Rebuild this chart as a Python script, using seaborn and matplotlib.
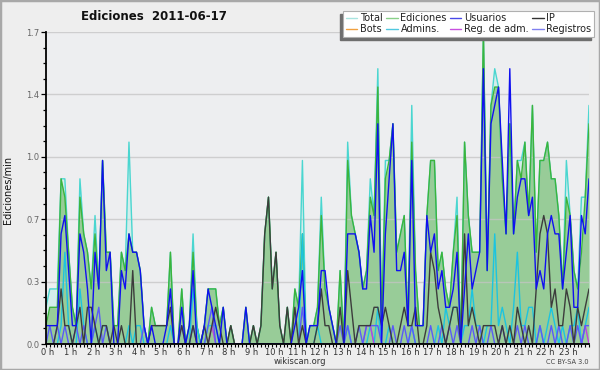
import numpy as np
import matplotlib
matplotlib.use('Agg')
import matplotlib.pyplot as plt
import seaborn as sns
from matplotlib.lines import Line2D
from matplotlib.patches import Rectangle
from matplotlib.transforms import IdentityTransform, ScaledTranslation

# Ediciones por minuto, un valor cada 10 minutos (0 h .. 24 h)
total = [
    0.2, 0.3, 0.3, 0.3, 0.9, 0.9, 0.5, 0.2, 0.1, 0.9, 0.6, 0.5,
    0.3, 0.7, 0.3, 1.0, 0.5, 0.5, 0.1, 0.1, 0.5, 0.4, 1.1, 0.5,
    0.5, 0.4, 0.1, 0.0, 0.2, 0.1, 0.1, 0.1, 0.1, 0.5, 0.0, 0.0,
    0.3, 0.0, 0.1, 0.6, 0.1, 0.0, 0.1, 0.3, 0.3, 0.3, 0.1, 0.2,
    0.0, 0.1, 0.0, 0.0, 0.0, 0.2, 0.0, 0.1, 0.0, 0.1, 0.6, 0.8,
    0.3, 0.5, 0.1, 0.0, 0.2, 0.0, 0.3, 0.2, 1.0, 0.0, 0.1, 0.1,
    0.2, 0.8, 0.3, 0.2, 0.1, 0.0, 0.4, 0.0, 1.1, 0.7, 0.6, 0.5,
    0.3, 0.4, 0.9, 0.7, 1.5, 0.1, 1.0, 1.0, 1.2, 0.5, 0.6, 0.7,
    0.1, 1.3, 0.4, 0.1, 0.1, 0.7, 1.0, 1.0, 0.4, 0.5, 0.3, 0.2,
    0.5, 0.8, 0.0, 1.1, 0.7, 0.5, 0.5, 0.5, 1.7, 0.4, 1.3, 1.5,
    1.4, 0.9, 0.6, 1.2, 0.6, 1.0, 1.0, 1.1, 0.7, 1.3, 0.5, 1.0,
    1.0, 1.1, 0.9, 0.9, 0.7, 0.3, 1.0, 0.7, 0.4, 0.3, 0.8, 0.8,
    1.3,
]
ediciones = [
    0.1, 0.2, 0.2, 0.2, 0.9, 0.8, 0.5, 0.2, 0.1, 0.8, 0.6, 0.5,
    0.3, 0.6, 0.3, 1.0, 0.5, 0.5, 0.1, 0.1, 0.5, 0.4, 0.6, 0.5,
    0.5, 0.4, 0.1, 0.0, 0.2, 0.1, 0.1, 0.1, 0.1, 0.5, 0.0, 0.0,
    0.3, 0.0, 0.1, 0.5, 0.1, 0.0, 0.1, 0.3, 0.3, 0.3, 0.1, 0.2,
    0.0, 0.1, 0.0, 0.0, 0.0, 0.2, 0.0, 0.1, 0.0, 0.1, 0.6, 0.8,
    0.3, 0.5, 0.1, 0.0, 0.2, 0.0, 0.3, 0.2, 0.6, 0.0, 0.1, 0.1,
    0.2, 0.7, 0.3, 0.2, 0.1, 0.0, 0.4, 0.0, 1.0, 0.7, 0.6, 0.5,
    0.3, 0.4, 0.8, 0.7, 1.4, 0.1, 0.9, 1.0, 1.2, 0.5, 0.6, 0.7,
    0.1, 1.1, 0.4, 0.1, 0.1, 0.7, 1.0, 1.0, 0.4, 0.5, 0.3, 0.2,
    0.5, 0.7, 0.0, 1.1, 0.7, 0.5, 0.5, 0.5, 1.7, 0.4, 1.3, 1.4,
    1.4, 0.9, 0.6, 1.2, 0.6, 1.0, 0.9, 1.1, 0.7, 1.3, 0.5, 1.0,
    1.0, 1.1, 0.9, 0.9, 0.7, 0.3, 0.8, 0.7, 0.4, 0.3, 0.5, 0.8,
    1.2,
]
usuarios = [
    0.1, 0.1, 0.1, 0.1, 0.6, 0.7, 0.4, 0.1, 0.1, 0.6, 0.5, 0.3,
    0.0, 0.5, 0.3, 1.0, 0.4, 0.5, 0.0, 0.0, 0.4, 0.3, 0.6, 0.5,
    0.5, 0.4, 0.1, 0.0, 0.1, 0.0, 0.0, 0.0, 0.1, 0.3, 0.0, 0.0,
    0.2, 0.0, 0.1, 0.4, 0.0, 0.0, 0.1, 0.3, 0.2, 0.1, 0.0, 0.2,
    0.0, 0.0, 0.0, 0.0, 0.0, 0.2, 0.0, 0.0, 0.0, 0.0, 0.0, 0.0,
    0.0, 0.0, 0.0, 0.0, 0.0, 0.0, 0.1, 0.2, 0.4, 0.0, 0.1, 0.1,
    0.1, 0.4, 0.4, 0.2, 0.1, 0.0, 0.0, 0.0, 0.6, 0.6, 0.6, 0.5,
    0.3, 0.3, 0.7, 0.5, 1.2, 0.0, 0.6, 0.9, 1.2, 0.4, 0.4, 0.5,
    0.1, 1.0, 0.1, 0.1, 0.1, 0.7, 0.5, 0.6, 0.3, 0.4, 0.2, 0.2,
    0.3, 0.5, 0.0, 0.3, 0.6, 0.3, 0.4, 0.5, 1.5, 0.4, 1.2, 1.3,
    1.4, 1.0, 0.6, 1.5, 0.6, 0.8, 0.9, 0.9, 0.7, 0.8, 0.3, 0.4,
    0.3, 0.6, 0.7, 0.6, 0.6, 0.3, 0.5, 0.7, 0.2, 0.2, 0.7, 0.6,
    0.9,
]
ip = [
    0.0, 0.0, 0.0, 0.1, 0.3, 0.1, 0.1, 0.0, 0.1, 0.2, 0.0, 0.2,
    0.2, 0.1, 0.0, 0.1, 0.1, 0.0, 0.1, 0.0, 0.1, 0.0, 0.0, 0.4,
    0.0, 0.0, 0.0, 0.0, 0.1, 0.1, 0.1, 0.1, 0.1, 0.2, 0.0, 0.0,
    0.1, 0.0, 0.0, 0.1, 0.0, 0.0, 0.1, 0.0, 0.1, 0.2, 0.1, 0.0,
    0.0, 0.1, 0.0, 0.0, 0.0, 0.0, 0.0, 0.1, 0.0, 0.1, 0.6, 0.8,
    0.3, 0.5, 0.1, 0.0, 0.2, 0.0, 0.2, 0.0, 0.1, 0.0, 0.0, 0.0,
    0.1, 0.3, 0.1, 0.1, 0.0, 0.0, 0.2, 0.0, 0.4, 0.2, 0.0, 0.1,
    0.1, 0.1, 0.1, 0.2, 0.2, 0.1, 0.2, 0.1, 0.0, 0.0, 0.1, 0.2,
    0.1, 0.1, 0.2, 0.0, 0.0, 0.1, 0.5, 0.4, 0.2, 0.1, 0.0, 0.1,
    0.2, 0.2, 0.0, 0.6, 0.1, 0.2, 0.1, 0.0, 0.1, 0.1, 0.1, 0.1,
    0.0, 0.1, 0.0, 0.1, 0.0, 0.2, 0.1, 0.0, 0.1, 0.0, 0.3, 0.6,
    0.7, 0.6, 0.2, 0.3, 0.1, 0.1, 0.3, 0.2, 0.0, 0.2, 0.1, 0.2,
    0.3,
]
bots = [
    0.0, 0.0, 0.0, 0.0, 0.0, 0.0, 0.0, 0.0, 0.0, 0.0, 0.0, 0.0,
    0.0, 0.0, 0.0, 0.0, 0.0, 0.0, 0.0, 0.0, 0.0, 0.0, 0.0, 0.0,
    0.0, 0.0, 0.0, 0.0, 0.0, 0.0, 0.0, 0.0, 0.0, 0.0, 0.0, 0.0,
    0.0, 0.0, 0.0, 0.0, 0.0, 0.0, 0.0, 0.0, 0.0, 0.0, 0.0, 0.0,
    0.0, 0.0, 0.0, 0.0, 0.0, 0.0, 0.0, 0.0, 0.0, 0.0, 0.0, 0.0,
    0.0, 0.0, 0.0, 0.0, 0.0, 0.0, 0.0, 0.0, 0.0, 0.0, 0.0, 0.0,
    0.0, 0.0, 0.0, 0.0, 0.0, 0.0, 0.0, 0.0, 0.0, 0.0, 0.0, 0.0,
    0.0, 0.0, 0.0, 0.0, 0.0, 0.0, 0.0, 0.0, 0.0, 0.0, 0.0, 0.0,
    0.0, 0.0, 0.0, 0.0, 0.0, 0.0, 0.0, 0.0, 0.0, 0.0, 0.0, 0.0,
    0.0, 0.0, 0.0, 0.0, 0.0, 0.0, 0.0, 0.0, 0.0, 0.0, 0.0, 0.0,
    0.0, 0.0, 0.0, 0.0, 0.0, 0.0, 0.0, 0.0, 0.0, 0.0, 0.0, 0.0,
    0.0, 0.0, 0.0, 0.0, 0.0, 0.0, 0.0, 0.0, 0.0, 0.0, 0.0, 0.0,
    0.0,
]
admins = [
    0.0, 0.0, 0.0, 0.0, 0.1, 0.5, 0.1, 0.0, 0.0, 0.3, 0.1, 0.0,
    0.0, 0.1, 0.0, 0.1, 0.1, 0.0, 0.0, 0.0, 0.0, 0.0, 0.1, 0.0,
    0.1, 0.1, 0.0, 0.0, 0.0, 0.0, 0.0, 0.0, 0.0, 0.1, 0.0, 0.0,
    0.0, 0.0, 0.0, 0.3, 0.1, 0.0, 0.0, 0.1, 0.1, 0.1, 0.0, 0.0,
    0.0, 0.0, 0.0, 0.0, 0.0, 0.0, 0.0, 0.0, 0.0, 0.0, 0.0, 0.0,
    0.0, 0.0, 0.0, 0.0, 0.0, 0.0, 0.0, 0.0, 0.6, 0.0, 0.0, 0.0,
    0.1, 0.0, 0.0, 0.0, 0.0, 0.0, 0.0, 0.0, 0.1, 0.0, 0.0, 0.0,
    0.0, 0.0, 0.1, 0.0, 0.2, 0.0, 0.0, 0.1, 0.0, 0.0, 0.0, 0.0,
    0.0, 0.1, 0.0, 0.0, 0.0, 0.0, 0.0, 0.0, 0.1, 0.0, 0.2, 0.1,
    0.2, 0.2, 0.0, 0.1, 0.1, 0.3, 0.1, 0.1, 0.0, 0.1, 0.1, 0.6,
    0.1, 0.2, 0.1, 0.0, 0.2, 0.5, 0.1, 0.1, 0.2, 0.2, 0.0, 0.1,
    0.0, 0.1, 0.2, 0.1, 0.0, 0.1, 0.0, 0.1, 0.1, 0.2, 0.0, 0.1,
    0.2,
]
reg_adm = [
    0.0, 0.0, 0.0, 0.0, 0.0, 0.0, 0.0, 0.0, 0.0, 0.0, 0.0, 0.0,
    0.0, 0.0, 0.0, 0.0, 0.0, 0.0, 0.0, 0.0, 0.0, 0.0, 0.0, 0.0,
    0.0, 0.0, 0.0, 0.0, 0.0, 0.0, 0.0, 0.0, 0.0, 0.0, 0.0, 0.0,
    0.0, 0.0, 0.0, 0.0, 0.0, 0.0, 0.0, 0.0, 0.1, 0.0, 0.0, 0.0,
    0.0, 0.0, 0.0, 0.0, 0.0, 0.0, 0.0, 0.0, 0.0, 0.0, 0.0, 0.0,
    0.0, 0.0, 0.0, 0.0, 0.0, 0.0, 0.0, 0.0, 0.0, 0.0, 0.0, 0.0,
    0.0, 0.0, 0.0, 0.0, 0.0, 0.0, 0.0, 0.0, 0.0, 0.0, 0.0, 0.0,
    0.0, 0.1, 0.1, 0.0, 0.0, 0.0, 0.0, 0.0, 0.0, 0.0, 0.0, 0.0,
    0.0, 0.0, 0.0, 0.0, 0.0, 0.0, 0.0, 0.0, 0.0, 0.0, 0.0, 0.0,
    0.0, 0.0, 0.0, 0.0, 0.0, 0.0, 0.0, 0.0, 0.0, 0.0, 0.0, 0.0,
    0.0, 0.0, 0.0, 0.0, 0.0, 0.0, 0.0, 0.0, 0.0, 0.0, 0.0, 0.0,
    0.0, 0.0, 0.0, 0.0, 0.0, 0.0, 0.0, 0.0, 0.0, 0.0, 0.0, 0.1,
    0.0,
]
registros = [
    0.0, 0.1, 0.0, 0.1, 0.0, 0.1, 0.0, 0.0, 0.1, 0.0, 0.1, 0.0,
    0.0, 0.1, 0.2, 0.0, 0.1, 0.0, 0.0, 0.0, 0.0, 0.0, 0.0, 0.0,
    0.0, 0.0, 0.1, 0.0, 0.0, 0.0, 0.0, 0.0, 0.0, 0.0, 0.0, 0.0,
    0.1, 0.0, 0.0, 0.1, 0.0, 0.0, 0.0, 0.1, 0.2, 0.0, 0.0, 0.0,
    0.0, 0.0, 0.0, 0.0, 0.0, 0.0, 0.0, 0.0, 0.0, 0.0, 0.0, 0.0,
    0.0, 0.0, 0.0, 0.0, 0.0, 0.0, 0.0, 0.0, 0.2, 0.0, 0.0, 0.0,
    0.0, 0.0, 0.0, 0.0, 0.0, 0.0, 0.1, 0.0, 0.1, 0.0, 0.0, 0.1,
    0.0, 0.1, 0.1, 0.1, 0.1, 0.0, 0.0, 0.0, 0.1, 0.0, 0.0, 0.1,
    0.0, 0.1, 0.0, 0.0, 0.0, 0.0, 0.1, 0.0, 0.0, 0.1, 0.0, 0.1,
    0.0, 0.1, 0.0, 0.0, 0.0, 0.1, 0.0, 0.1, 0.0, 0.0, 0.1, 0.0,
    0.0, 0.1, 0.0, 0.0, 0.0, 0.1, 0.0, 0.1, 0.0, 0.0, 0.0, 0.1,
    0.0, 0.0, 0.1, 0.0, 0.1, 0.0, 0.0, 0.1, 0.0, 0.1, 0.0, 0.1,
    0.1,
]

hour_labels = [f'{h} h' for h in range(24)]
ytick_vals = [0.0, 0.34, 0.68, 1.02, 1.36, 1.7]
ytick_labels = ['0.0', '0.3', '0.7', '1.0', '1.4', '1.7']

hours = np.arange(len(ediciones)) / 6

sns.set_theme(style='white')
plt.rcParams['font.family'] = ['DejaVu Sans']

fig = plt.figure(figsize=(6, 3.7), dpi=100, facecolor='#eeeeee')
ax = fig.add_axes([46 / 600, 26 / 370, 543 / 600, 312 / 370], facecolor='#edeef0')

# areas
ax.fill_between(hours, total, color='#d4edeb', lw=0, zorder=1)
ax.fill_between(hours, ediciones, color='#98cc98', lw=0, zorder=1.1)

# lineas
series = [
    (total, '#4ad6d0'),
    (ediciones, '#3cb43c'),
    (bots, '#f0a030'),
    (admins, '#1cc4e0'),
    (reg_adm, '#c040e0'),
    (registros, '#5a5af8'),
    (ip, '#3c3c3c'),
    (usuarios, '#1010f0'),
]
for vals, col in series:
    sns.lineplot(x=hours, y=vals, color=col, lw=1.0, ax=ax, legend=False)

ax.set_xlim(0, 24)
ax.set_ylim(0, 1.7)
ax.set_xticks(range(24))
ax.set_xticklabels(hour_labels)
ax.set_xticks(np.arange(0, 24.01, 1 / 6), minor=True)
ax.set_yticks(ytick_vals)
ax.set_yticklabels(ytick_labels)
ax.set_yticks(np.arange(0, 1.71, 0.085), minor=True)
ax.tick_params(axis='x', which='both', bottom=True, direction='out', length=2.2,
               width=0.8, color='black', labelsize=6, pad=1, labelcolor='#333333')
ax.tick_params(axis='y', which='major', left=True, direction='out', length=3.8,
               width=0.9, color='black', labelsize=6, pad=1, labelcolor='#666666')
ax.tick_params(axis='y', which='minor', left=True, direction='out', length=2.4,
               width=0.9, color='black')
ax.set_xlabel('')
ax.set_ylabel('')
for lbl in ax.get_xticklabels():
    lbl.set_transform(lbl.get_transform() + ScaledTranslation(2 / 100, 0, fig.dpi_scale_trans))

# rejilla por encima de las areas, por debajo de las lineas
for y in ytick_vals[1:]:
    ax.axhline(y, color='#c4c4c4', lw=1, alpha=0.75, zorder=1.5)
for s in ['top', 'right']:
    ax.spines[s].set_visible(False)
for s in ['left', 'bottom']:
    ax.spines[s].set_color('black')
    ax.spines[s].set_linewidth(1.3)

# textos
fig.text(154 / 600, 1 - 16.5 / 370, 'Ediciones  2011-06-17', ha='center', va='center',
         fontsize=8.5, fontweight='bold', color='#111111')
fig.text(8 / 600, 1 - 190 / 370, 'Ediciones/min', rotation=90, ha='center', va='center',
         fontsize=7, color='#111111')
fig.text(300 / 600, 1 - 362 / 370, 'wikiscan.org', ha='center', va='center',
         fontsize=6, color='#333333')
fig.text(589 / 600, 1 - 362 / 370, 'CC BY-SA 3.0', ha='right', va='center',
         fontsize=4.8, color='#444444')

# leyenda (el orden va por columnas)
leg_items = [
    ('Total', '#a8e4e0'), ('Bots', '#f0a040'),
    ('Ediciones', '#88d088'), ('Admins.', '#50c8e0'),
    ('Usuarios', '#4848e8'), ('Reg. de adm.', '#c850e0'),
    ('IP', '#333333'), ('Registros', '#8080f0'),
]
handles = [Line2D([], [], color=c, lw=1) for _, c in leg_items]
leg = fig.legend(handles, [n for n, _ in leg_items], ncol=4, loc='upper right',
                 bbox_to_anchor=(594 / 600, 1 - 11 / 370), frameon=True, fancybox=False,
                 fontsize=7, handlelength=1.2, handletextpad=0.3, columnspacing=0.3,
                 labelspacing=0.1, borderpad=0.25, borderaxespad=0)
frame = leg.get_frame()
frame.set_edgecolor('#b0b0b0')
frame.set_facecolor('white')
frame.set_alpha(1)
frame.set_linewidth(0.8)
for t in leg.get_texts():
    t.set_color('#222222')

fig.canvas.draw()
bb = leg.get_window_extent()
shadow = Rectangle((bb.x0 - 3, bb.y0 - 3), bb.width, bb.height, transform=IdentityTransform(),
                   color='#6e6e6e', zorder=leg.get_zorder() - 0.1)
fig.add_artist(shadow)

# borde
fig.add_artist(Rectangle((0, 0), 1, 1, transform=fig.transFigure, fill=False,
                         ec='#a8a8a8', lw=2.5, zorder=10))

fig.savefig('out.png', dpi=100, facecolor=fig.get_facecolor())
